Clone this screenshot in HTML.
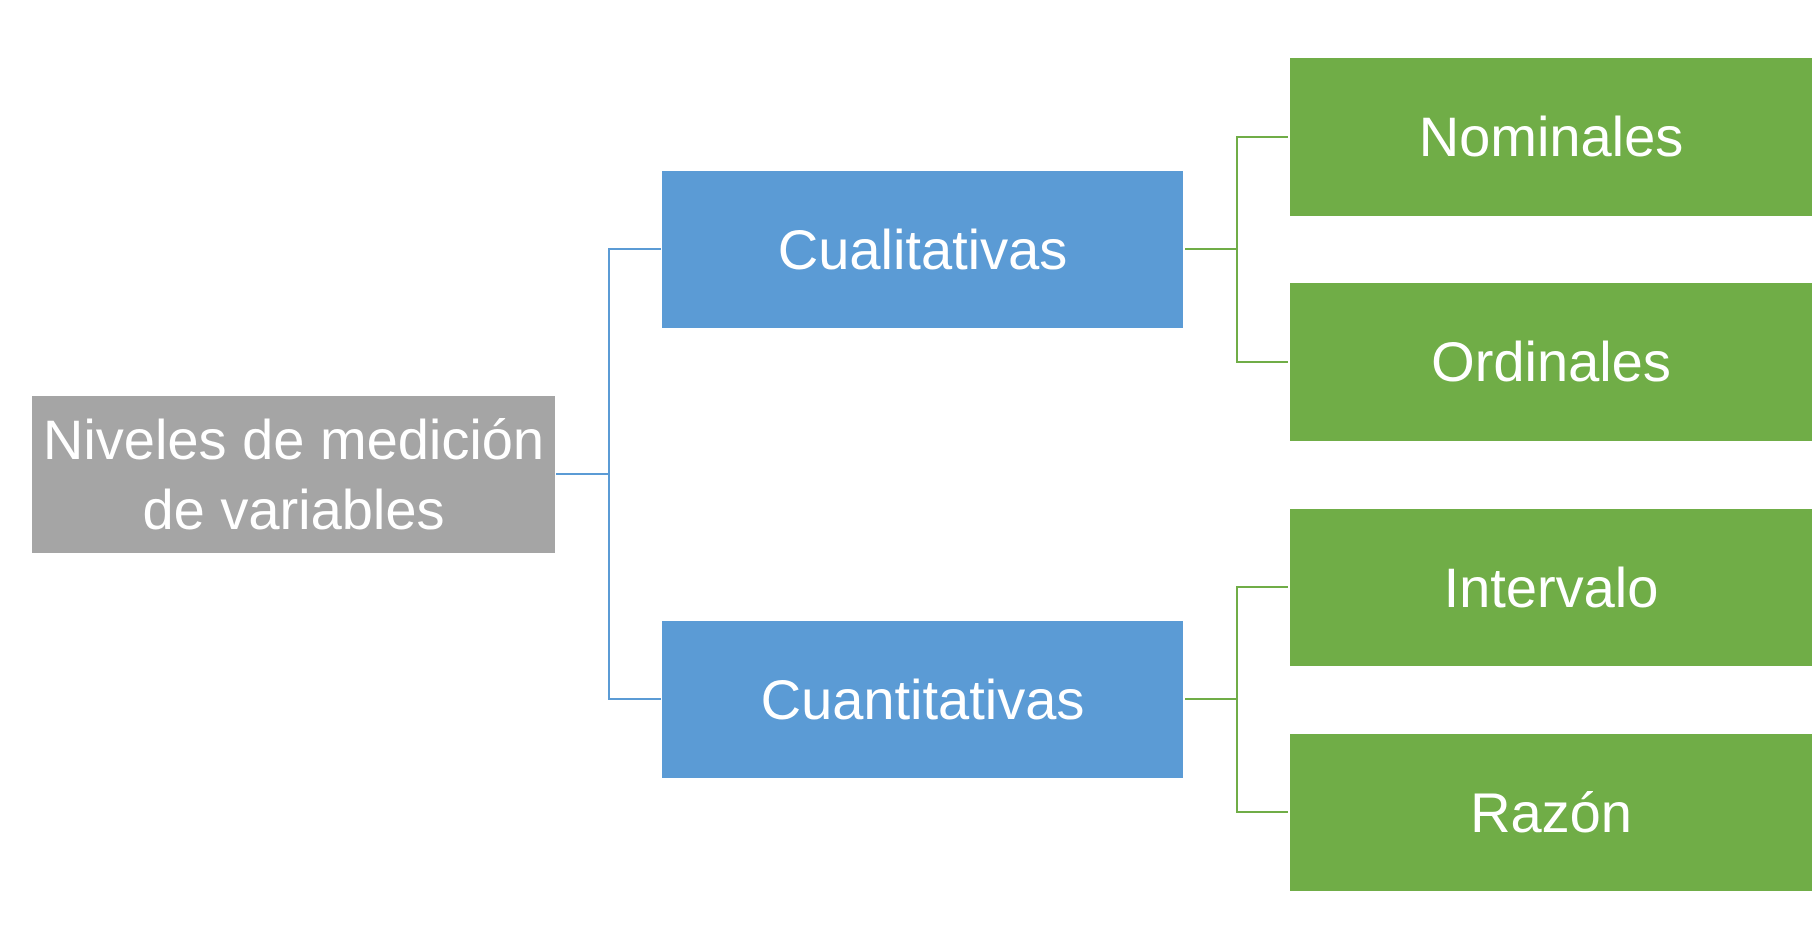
<!DOCTYPE html>
<html><head><meta charset="utf-8"><style>
html,body{margin:0;padding:0;background:#fff;width:1814px;height:949px;overflow:hidden}
.b{position:absolute;display:flex;align-items:center;justify-content:center;text-align:center;color:#fff;font-family:"Liberation Sans",sans-serif;font-size:56px;line-height:70px}
.g{background:#a5a5a5}.bl{background:#5b9bd5}.gr{background:#70ad47}
.l{position:absolute}
</style></head><body>
<div class="b g" style="left:32px;top:396px;width:523px;height:157px">Niveles de medición<br>de variables</div>
<div class="b bl" style="left:662px;top:171px;width:521px;height:157px">Cualitativas</div>
<div class="b bl" style="left:662px;top:621px;width:521px;height:157px">Cuantitativas</div>
<div class="b gr" style="left:1290px;top:58px;width:522px;height:158px">Nominales</div>
<div class="b gr" style="left:1290px;top:283px;width:522px;height:158px">Ordinales</div>
<div class="b gr" style="left:1290px;top:509px;width:522px;height:157px">Intervalo</div>
<div class="b gr" style="left:1290px;top:734px;width:522px;height:157px">Razón</div>
<svg class="l" style="left:0;top:0" width="1814" height="949">
<g stroke="#5b9bd5" stroke-width="2" fill="none">
<path d="M556 474H609M661 249H609V699H661"/>
</g>
<g stroke="#70ad47" stroke-width="2" fill="none">
<path d="M1185 249H1237M1288 137H1237V362H1288"/>
<path d="M1185 699H1237M1288 587H1237V812H1288"/>
</g>
</svg>
</body></html>
